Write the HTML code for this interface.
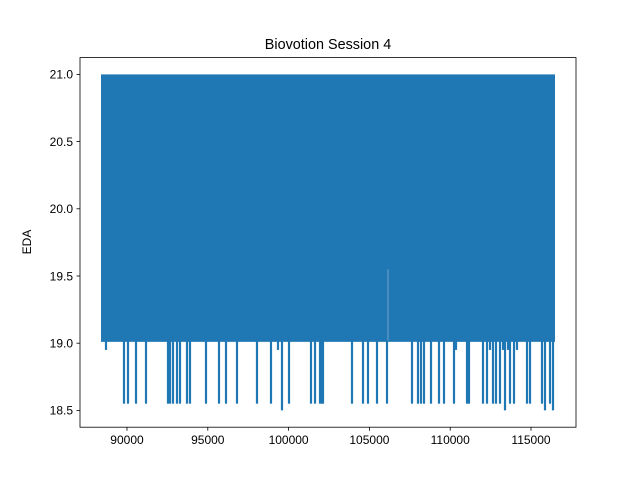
<!DOCTYPE html>
<html><head><meta charset="utf-8"><style>
body{margin:0;background:#fff;}
svg text{font-family:"Liberation Sans","DejaVu Sans",sans-serif;fill:#000;}
</style></head><body>
<svg id="chart" width="640" height="480" viewBox="0 0 640 480" xmlns="http://www.w3.org/2000/svg">
<rect width="640" height="480" fill="#fff"/>
<g id="plot"></g>
<g id="axes"></g>
<text x="328" y="49" font-size="14.4" text-anchor="middle">Biovotion Session 4</text>
<text transform="translate(31,242) rotate(-90)" font-size="12" text-anchor="middle">EDA</text>
</svg>
<script>
const dataStart = 88391, dataEnd = 116485;
const bandHigh = 21.0, bandLow = 19.01;
const upSpikeTime = 106150, upSpikeValue = 19.55;
const spikeTimes = [88700,89814,90062,90557,91176,92537,92661,92846,93094,93280,93713,93898,94889,95693,96126,96807,98044,98911,99344,99591,100025,101386,101634,101943,102067,102128,103923,104604,104913,105470,106089,107636,108007,108193,108379,108812,109307,109616,110235,110359,111039,111163,112029,112277,112463,112648,112834,113081,113267,113391,113577,113700,113948,114133,114752,114938,115680,115866,116175,116361];
const spikeValues = [18.95,18.55,18.55,18.55,18.55,18.55,18.55,18.55,18.55,18.55,18.55,18.55,18.55,18.55,18.55,18.55,18.55,18.55,18.95,18.5,18.55,18.55,18.55,18.55,18.55,18.55,18.55,18.55,18.55,18.55,18.55,18.55,18.55,18.55,18.55,18.55,18.55,18.55,18.55,18.95,18.55,18.55,18.55,18.55,18.95,18.55,18.55,18.55,18.95,18.5,18.95,18.55,18.55,18.95,18.55,18.55,18.55,18.5,18.55,18.5];
const xTicks = [90000,95000,100000,105000,110000,115000];
const xTickLabels = ["90000","95000","100000","105000","110000","115000"];
const yTicks = [18.5,19.0,19.5,20.0,20.5,21.0];
const yTickLabels = ["18.5","19.0","19.5","20.0","20.5","21.0"];

const L=80,R=576,T=57.6,B=427.2;
const xmin=87092, xmax=117784;
const ymin=18.5-0.125, ymax=21.0+0.125;
const X=v=>L+(v-xmin)/(xmax-xmin)*(R-L);
const Y=v=>B-(v-ymin)/(ymax-ymin)*(B-T);
const NS="http://www.w3.org/2000/svg";
const plot=document.getElementById('plot'), axes=document.getElementById('axes');
function mk(tag,attrs,parent){const e=document.createElementNS(NS,tag);for(const k in attrs)e.setAttribute(k,attrs[k]);parent.appendChild(e);return e;}
const band=mk('rect',{x:X(dataStart),y:Y(bandHigh),width:X(dataEnd)-X(dataStart),height:Y(bandLow)-Y(bandHigh),fill:'#1f77b4'},plot);


spikeTimes.forEach((t,i)=>{
  const s=mk('line',{x1:X(t),x2:X(t),y1:Y(bandLow)-1,y2:Y(spikeValues[i]),stroke:'#1f77b4','stroke-width':2.2},plot);
  
  
});
const up=mk('line',{x1:X(upSpikeTime),x2:X(upSpikeTime),y1:Y(upSpikeValue),y2:Y(19.02),stroke:'#6fa3cf','stroke-width':1},plot);


const frame=mk('rect',{x:L,y:T,width:R-L,height:B-T,fill:'none',stroke:'#000','stroke-width':0.8},axes);


xTicks.forEach((t,i)=>{
  const tk=mk('line',{x1:X(t),x2:X(t),y1:B,y2:B+3.5,stroke:'#000','stroke-width':0.8},axes);
  
  
  const lb=mk('text',{x:X(t),y:B+17,'font-size':12,'text-anchor':'middle'},axes);
  lb.textContent=xTickLabels[i];
  
  
});
yTicks.forEach((t,i)=>{
  const tk=mk('line',{x1:L-3.5,x2:L,y1:Y(t),y2:Y(t),stroke:'#000','stroke-width':0.8},axes);
  
  
  const lb=mk('text',{x:L-7,y:Y(t)+4.3,'font-size':12,'text-anchor':'end'},axes);
  lb.textContent=yTickLabels[i];
  
  
});
</script>
</body></html>
